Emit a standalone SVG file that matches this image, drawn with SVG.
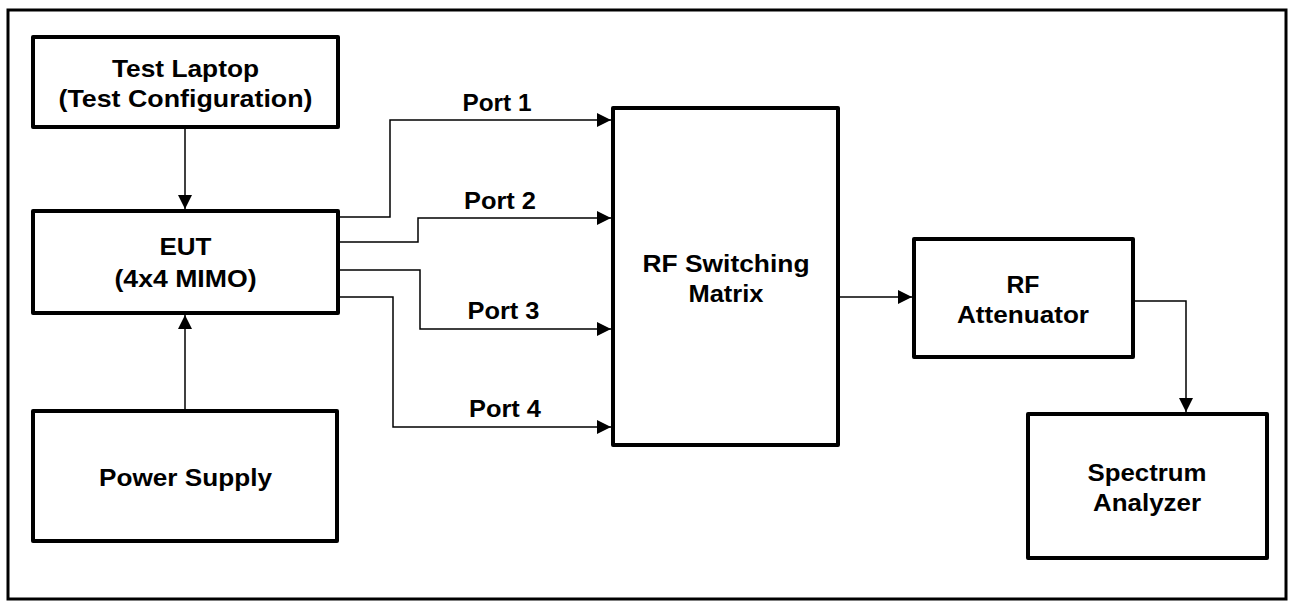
<svg xmlns="http://www.w3.org/2000/svg" width="1290" height="602" viewBox="0 0 1290 602">
  <style>
    .box { fill: #ffffff; stroke: #000000; stroke-width: 4; stroke-linejoin: round; }
    .frame { fill: none; stroke: #000000; stroke-width: 3; }
    .lbl { font-family: "Liberation Sans", Arial, sans-serif; font-weight: bold; font-size: 24px; fill: #000000; text-anchor: middle; }
    .wire { fill: none; stroke: #000000; stroke-width: 1.5; }
  </style>
  <defs>
    <marker id="arr" markerUnits="userSpaceOnUse" markerWidth="14" markerHeight="14" viewBox="0 0 14 14" refX="14" refY="7" orient="auto">
      <path d="M0,0 L14,7 L0,14 Z" fill="#000000"/>
    </marker>
  </defs>
  <rect x="0" y="0" width="1290" height="602" fill="#ffffff"/>
  <rect class="frame" x="8" y="10" width="1278" height="589"/>

  <g id="test-laptop">
    <rect class="box" x="33" y="37" width="305" height="90"/>
    <text class="lbl" x="185.5" y="77" textLength="147" lengthAdjust="spacingAndGlyphs">Test Laptop</text>
    <text class="lbl" x="185.5" y="107" textLength="254" lengthAdjust="spacingAndGlyphs">(Test Configuration)</text>
  </g>
  <g id="eut">
    <rect class="box" x="33" y="211" width="305" height="102"/>
    <text class="lbl" x="185.5" y="255" textLength="52" lengthAdjust="spacingAndGlyphs">EUT</text>
    <text class="lbl" x="185.5" y="287" textLength="142" lengthAdjust="spacingAndGlyphs">(4x4 MIMO)</text>
  </g>
  <g id="power-supply">
    <rect class="box" x="33" y="411" width="304" height="130"/>
    <text class="lbl" x="185.5" y="486" textLength="173" lengthAdjust="spacingAndGlyphs">Power Supply</text>
  </g>
  <g id="rf-switching-matrix">
    <rect class="box" x="613" y="108" width="225" height="337"/>
    <text class="lbl" x="726" y="272" textLength="167" lengthAdjust="spacingAndGlyphs">RF Switching</text>
    <text class="lbl" x="726" y="302" textLength="75" lengthAdjust="spacingAndGlyphs">Matrix</text>
  </g>
  <g id="rf-attenuator">
    <rect class="box" x="914" y="239" width="219" height="118"/>
    <text class="lbl" x="1023" y="293" textLength="33" lengthAdjust="spacingAndGlyphs">RF</text>
    <text class="lbl" x="1023" y="323" textLength="132" lengthAdjust="spacingAndGlyphs">Attenuator</text>
  </g>
  <g id="spectrum-analyzer">
    <rect class="box" x="1028" y="414" width="239" height="144"/>
    <text class="lbl" x="1147" y="481" textLength="119" lengthAdjust="spacingAndGlyphs">Spectrum</text>
    <text class="lbl" x="1147" y="511" textLength="108" lengthAdjust="spacingAndGlyphs">Analyzer</text>
  </g>

  <g id="connectors">
    <path class="wire" d="M185,129 L185,209" marker-end="url(#arr)"/>
    <path class="wire" d="M185,409 L185,315" marker-end="url(#arr)"/>
    <path class="wire" d="M340,217 L390,217 L390,120 L611,120" marker-end="url(#arr)"/>
    <path class="wire" d="M340,242 L418,242 L418,218 L611,218" marker-end="url(#arr)"/>
    <path class="wire" d="M340,270 L420,270 L420,329 L611,329" marker-end="url(#arr)"/>
    <path class="wire" d="M340,297 L393,297 L393,427 L611,427" marker-end="url(#arr)"/>
    <path class="wire" d="M840,297 L912,297" marker-end="url(#arr)"/>
    <path class="wire" d="M1135,301 L1186,301 L1186,412" marker-end="url(#arr)"/>
    <text class="lbl" x="497" y="111" textLength="69" lengthAdjust="spacingAndGlyphs">Port 1</text>
    <text class="lbl" x="500" y="209" textLength="72" lengthAdjust="spacingAndGlyphs">Port 2</text>
    <text class="lbl" x="503.5" y="319" textLength="72" lengthAdjust="spacingAndGlyphs">Port 3</text>
    <text class="lbl" x="505" y="417" textLength="72" lengthAdjust="spacingAndGlyphs">Port 4</text>
  </g>
</svg>
